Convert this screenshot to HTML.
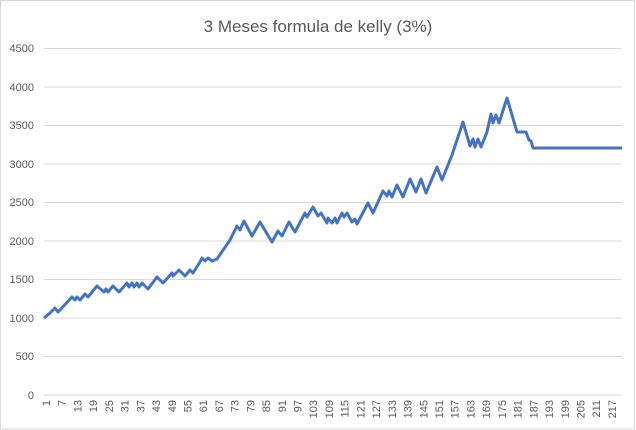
<!DOCTYPE html>
<html><head><meta charset="utf-8"><style>
html,body{margin:0;padding:0;background:#fff}
svg{display:block}
text{font-family:"Liberation Sans",sans-serif;fill:#595959}
</style></head><body>
<svg width="636" height="430" viewBox="0 0 636 430" xmlns="http://www.w3.org/2000/svg">
<rect x="0.5" y="0.5" width="634" height="428.5" fill="#fff" stroke="#d9d9d9"/>
<text x="318" y="32" font-size="17" text-anchor="middle">3 Meses formula de kelly (3%)</text>
<g stroke="#d9d9d9" stroke-width="1">
<line x1="44" x2="622" y1="48.5" y2="48.5"/>
<line x1="44" x2="622" y1="87" y2="87"/>
<line x1="44" x2="622" y1="125.5" y2="125.5"/>
<line x1="44" x2="622" y1="164" y2="164"/>
<line x1="44" x2="622" y1="202.5" y2="202.5"/>
<line x1="44" x2="622" y1="241" y2="241"/>
<line x1="44" x2="622" y1="279.5" y2="279.5"/>
<line x1="44" x2="622" y1="318" y2="318"/>
<line x1="44" x2="622" y1="356.5" y2="356.5"/>
<line x1="44" x2="622" y1="395" y2="395"/>
</g>
<g font-size="11" text-anchor="end">
<text x="34" y="52">4500</text>
<text x="34" y="91">4000</text>
<text x="34" y="129">3500</text>
<text x="34" y="168">3000</text>
<text x="34" y="206">2500</text>
<text x="34" y="245">2000</text>
<text x="34" y="283">1500</text>
<text x="34" y="322">1000</text>
<text x="34" y="360">500</text>
<text x="34" y="399">0</text>
</g>
<polyline fill="none" stroke="#4472c4" stroke-width="3" stroke-linejoin="round" points="44,318 50,313 55,308 58,312 72,297 75,300 77,297 80,300 85,294 88,297 97,286 104,292 106,289 108,292 113,286 119,292 127,283 129,287 132,283 134,287 137,283 139,287 142,283 148,289 157,277 163,283 172,273 173,276 179,270 185,276 190,270 193,273 200,262 202,258 205,261 208,258 212,261 217,259 230,240 237,226 240,230 244,221 252,236 260,222 272,242 278,231 282,236 289,222 295,232 305,213 307,217 313,207 318,216 321,213 327,223 328,218 332,223 335,218 337,223 342,213 344,217 347,213 352,222 355,219 357,224 368,203 373,213 383,191 387,196 389,191 392,197 397,185 403,197 410,179 416,192 421,179 426,193 437,167 442,180 452,155 463,122 470,146 473,139 475,147 478,139 481,147 487,132 491,114 493,123 496,115 499,123 507,98 517,132 526,132 529,140 531,141 533,148 622,148"/>
<g font-size="11">
<text transform="translate(50,400) rotate(-90)" text-anchor="end">1</text>
<text transform="translate(65.7,400) rotate(-90)" text-anchor="end">7</text>
<text transform="translate(81.4,400) rotate(-90)" text-anchor="end">13</text>
<text transform="translate(97.2,400) rotate(-90)" text-anchor="end">19</text>
<text transform="translate(112.9,400) rotate(-90)" text-anchor="end">25</text>
<text transform="translate(128.6,400) rotate(-90)" text-anchor="end">31</text>
<text transform="translate(144.3,400) rotate(-90)" text-anchor="end">37</text>
<text transform="translate(160,400) rotate(-90)" text-anchor="end">43</text>
<text transform="translate(175.8,400) rotate(-90)" text-anchor="end">49</text>
<text transform="translate(191.5,400) rotate(-90)" text-anchor="end">55</text>
<text transform="translate(207.2,400) rotate(-90)" text-anchor="end">61</text>
<text transform="translate(222.9,400) rotate(-90)" text-anchor="end">67</text>
<text transform="translate(238.6,400) rotate(-90)" text-anchor="end">73</text>
<text transform="translate(254.4,400) rotate(-90)" text-anchor="end">79</text>
<text transform="translate(270.1,400) rotate(-90)" text-anchor="end">85</text>
<text transform="translate(285.8,400) rotate(-90)" text-anchor="end">91</text>
<text transform="translate(301.5,400) rotate(-90)" text-anchor="end">97</text>
<text transform="translate(317.2,400) rotate(-90)" text-anchor="end">103</text>
<text transform="translate(333,400) rotate(-90)" text-anchor="end">109</text>
<text transform="translate(348.7,400) rotate(-90)" text-anchor="end">115</text>
<text transform="translate(364.4,400) rotate(-90)" text-anchor="end">121</text>
<text transform="translate(380.1,400) rotate(-90)" text-anchor="end">127</text>
<text transform="translate(395.8,400) rotate(-90)" text-anchor="end">133</text>
<text transform="translate(411.6,400) rotate(-90)" text-anchor="end">139</text>
<text transform="translate(427.3,400) rotate(-90)" text-anchor="end">145</text>
<text transform="translate(443,400) rotate(-90)" text-anchor="end">151</text>
<text transform="translate(458.7,400) rotate(-90)" text-anchor="end">157</text>
<text transform="translate(474.4,400) rotate(-90)" text-anchor="end">163</text>
<text transform="translate(490.2,400) rotate(-90)" text-anchor="end">169</text>
<text transform="translate(505.9,400) rotate(-90)" text-anchor="end">175</text>
<text transform="translate(521.6,400) rotate(-90)" text-anchor="end">181</text>
<text transform="translate(537.3,400) rotate(-90)" text-anchor="end">187</text>
<text transform="translate(553,400) rotate(-90)" text-anchor="end">193</text>
<text transform="translate(568.8,400) rotate(-90)" text-anchor="end">199</text>
<text transform="translate(584.5,400) rotate(-90)" text-anchor="end">205</text>
<text transform="translate(600.2,400) rotate(-90)" text-anchor="end">211</text>
<text transform="translate(615.9,400) rotate(-90)" text-anchor="end">217</text>
</g>
</svg>
</body></html>
